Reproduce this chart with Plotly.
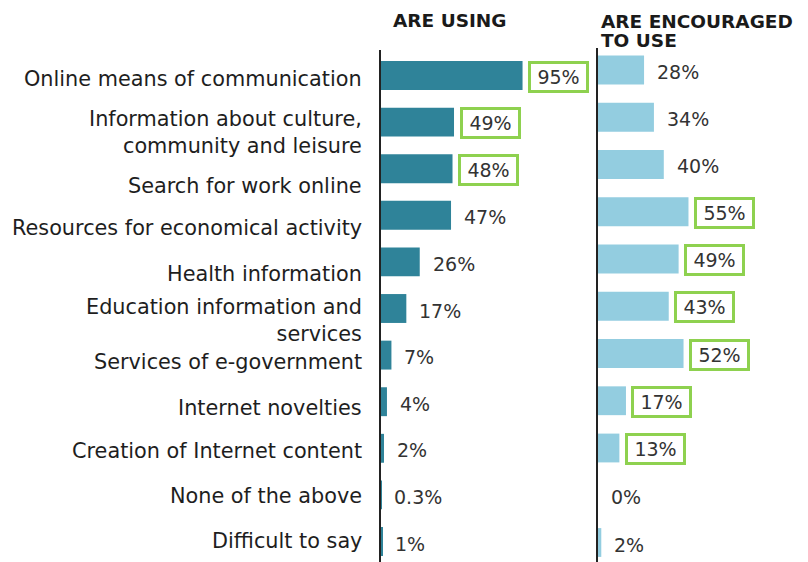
import plotly.graph_objects as go

# ---- data ----
categories = [
    "Online means of communication",
    "Information about culture,<br>community and leisure",
    "Search for work online",
    "Resources for economical activity",
    "Health information",
    "Education information and<br>services",
    "Services of e-government",
    "Internet novelties",
    "Creation of Internet content",
    "None of the above",
    "Difficult to say",
]
using = [95, 49, 48, 47, 26, 17, 7, 4, 2, 0.3, 1]
using_labels = ["95%", "49%", "48%", "47%", "26%", "17%", "7%", "4%", "2%", "0.3%", "1%"]
encouraged = [28, 34, 40, 55, 49, 43, 52, 17, 13, 0, 2]
encouraged_labels = ["28%", "34%", "40%", "55%", "49%", "43%", "52%", "17%", "13%", "0%", "2%"]
using_highlight = [True, True, True, False, False, False, False, False, False, False, False]
encouraged_highlight = [False, False, False, True, True, True, True, True, True, False, False]

# ---- layout tweaks (pixel offsets of category labels from bar centre) ----
label_dy = [3, 10.5, 17.5, 13, 12, 11.5, 7, 6, 3, 1, -1]

W, H = 808, 562
DARK = "#2f8399"
LIGHT = "#93cde0"
GREEN = "#8ed14f"
FONT = "DejaVu Sans, Verdana, sans-serif"

rows = list(range(len(categories)))

fig = go.Figure()
fig.add_trace(go.Bar(y=rows, x=using, orientation="h", marker=dict(color=DARK, line=dict(width=0)),
                     width=0.62, xaxis="x", yaxis="y", hoverinfo="skip"))
fig.add_trace(go.Bar(y=rows, x=encouraged, orientation="h", marker=dict(color=LIGHT, line=dict(width=0)),
                     width=0.61, xaxis="x2", yaxis="y2", hoverinfo="skip"))

ann = []
# category labels
for i, c in enumerate(categories):
    ann.append(dict(xref="paper", yref="y", x=364 / W, y=i, xanchor="right", yanchor="middle",
                    text=c, showarrow=False, align="right", yshift=-label_dy[i],
                    font=dict(family=FONT, size=20.8, color="#1e1e1e")))


def value_ann(xref, yref, v, lab, hl):
    if hl:
        return dict(xref=xref, yref=yref, x=v, y=i, xanchor="left", yanchor="middle", text=lab,
                    showarrow=False, xshift=5.5, yshift=-1, bordercolor=GREEN, borderwidth=3,
                    borderpad=1, width=53, height=24, align="center", bgcolor="white",
                    font=dict(family=FONT, size=19, color="#333333"))
    return dict(xref=xref, yref=yref, x=v, y=i, xanchor="left", yanchor="middle", text=lab,
                showarrow=False, xshift=13, yshift=-2, borderpad=0, borderwidth=0,
                font=dict(family=FONT, size=19, color="#333333"))


for i in rows:
    ann.append(value_ann("x", "y", using[i], using_labels[i], using_highlight[i]))
    ann.append(value_ann("x2", "y2", encouraged[i], encouraged_labels[i], encouraged_highlight[i]))

hdr = dict(family=FONT, size=18.5, color="#1a1a1a")
ann.append(dict(xref="paper", yref="paper", x=391 / W, y=1 - 20.5 / H, xanchor="left", yanchor="middle",
                text="<b>ARE USING</b>", showarrow=False, font=hdr))
ann.append(dict(xref="paper", yref="paper", x=599 / W, y=1 - 21 / H, xanchor="left", yanchor="middle",
                text="<b>ARE ENCOURAGED</b>", showarrow=False, font=hdr))
ann.append(dict(xref="paper", yref="paper", x=599 / W, y=1 - 40.5 / H, xanchor="left", yanchor="middle",
                text="<b>TO USE</b>", showarrow=False, font=hdr))

hidden = dict(showgrid=False, zeroline=False, showticklabels=False, ticks="", showline=False, fixedrange=True)

fig.update_layout(
    width=W, height=H,
    margin=dict(l=0, r=0, t=0, b=0),
    paper_bgcolor="white", plot_bgcolor="white",
    showlegend=False, barmode="overlay",
    annotations=ann,
    xaxis=dict(domain=[381 / W, 590 / W], range=[0, (590 - 381) / 1.49], anchor="y", **hidden),
    xaxis2=dict(domain=[598 / W, 1], range=[0, (808 - 598) / 1.645], anchor="y2", **hidden),
    yaxis=dict(domain=[0, 512 / H], range=[(562 - 75.5) / 46.6, -(75.5 - 50) / 46.6], anchor="x",
               showgrid=False, zeroline=False, showticklabels=False, ticks="", fixedrange=True,
               showline=True, linecolor="#222222", linewidth=2),
    yaxis2=dict(domain=[0, 514 / H], range=[(562 - 70) / 47.25, -(70 - 48) / 47.25], anchor="x2",
                showgrid=False, zeroline=False, showticklabels=False, ticks="", fixedrange=True,
                showline=True, linecolor="#222222", linewidth=2),
)

fig.write_html("out.html", config={"displayModeBar": False},
               post_script="document.body.style.margin='0';document.body.style.padding='0';")
